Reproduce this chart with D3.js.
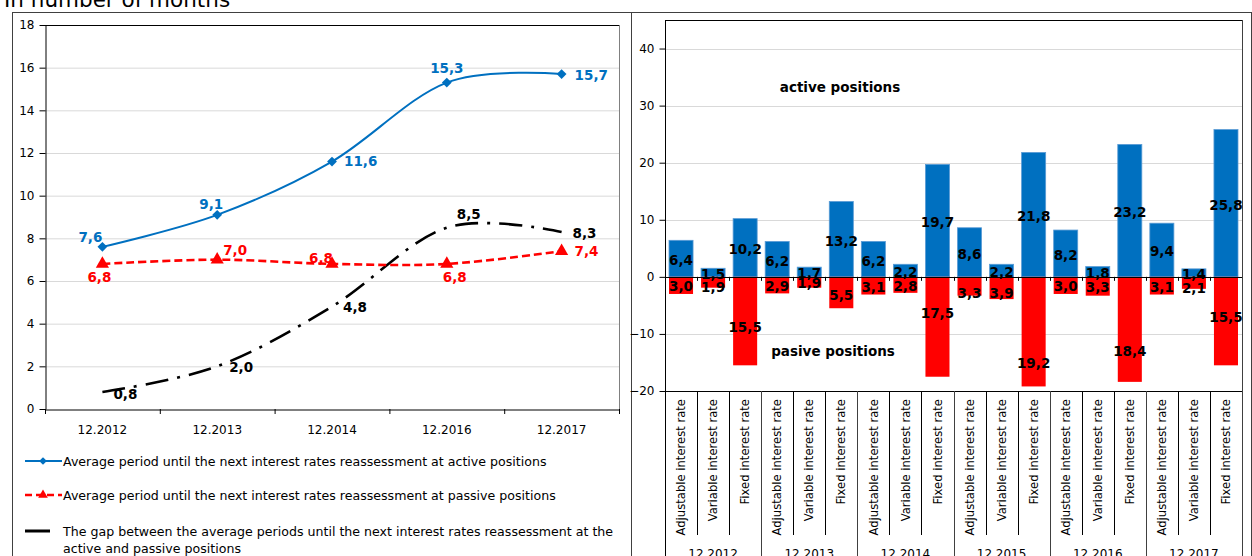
<!DOCTYPE html>
<html><head><meta charset="utf-8">
<script src="https://cdn.jsdelivr.net/npm/d3@7"></script>
<style>
body{margin:0;background:#fff}
svg{display:block}
text{font-family:"DejaVu Sans",sans-serif}
</style>
</head><body>
<svg id="c" width="1252" height="556"></svg>
<script>
// ---------- data ----------
const years = ["12.2012", "12.2013", "12.2014", "12.2016", "12.2017"];
const activeAvg = [7.6, 9.1, 11.6, 15.3, 15.7];
const passiveAvg = [6.8, 7.0, 6.8, 6.8, 7.4];
const gapAvg = [0.8, 2.0, 4.8, 8.5, 8.3];
const leftTicks = [0, 2, 4, 6, 8, 10, 12, 14, 16, 18];
const legendLabels = [
  "Average period until the next interest rates reassessment at active positions",
  "Average period until the next interest rates reassessment at passive positions",
  "The gap between the average periods until the next interest rates reassessment at the",
  "active and passive positions"
];
const titleText = "In number of months";

const barGroups = ["12.2012", "12.2013", "12.2014", "12.2015", "12.2016", "12.2017"];
const rateTypes = ["Adjustable interest rate", "Variable interest rate", "Fixed interest rate"];
const activeBars = [6.4, 1.5, 10.2, 6.2, 1.7, 13.2, 6.2, 2.2, 19.7, 8.6, 2.2, 21.8, 8.2, 1.8, 23.2, 9.4, 1.4, 25.8];
const passiveBars = [3.0, 1.9, 15.5, 2.9, 1.9, 5.5, 3.1, 2.8, 17.5, 3.3, 3.9, 19.2, 3.0, 3.3, 18.4, 3.1, 2.1, 15.5];
const rightTicks = [-20, -10, 0, 10, 20, 30, 40];
const annotActive = "active positions";
const annotPassive = "pasive positions";

// ---------- label placement (style, not data) ----------
const activeLblOff = [[0,-10,"end"],[-6,-11,"middle"],[12,0,"start"],[0,-14,"middle"],[13,1,"start"]];
const passiveLblOff = [[-3,13,"middle"],[6,-10,"start"],[1,-6,"end"],[8,13,"middle"],[13,0,"start"]];
const gapLblOff = [[11,2,"start"],[12,1,"start"],[11,1,"start"],[10,-14,"start"],[11,1,"start"]];
const passiveLblNudge = [0,4,5, 0,0,2, 0,0,-15, 6,4,30, 0,0,21, 0,4,-5];

const BLUE = "#0070C0", RED = "#FF0000";
const fmt = v => d3.format(".1f")(v).replace(".", ",");
const svg = d3.select("#c");

// frame
const frame = svg.append("g").attr("stroke", "#404040").attr("stroke-width", 1).attr("fill", "none");
frame.append("line").attr("x1", 12).attr("x2", 1252).attr("y1", 12.5).attr("y2", 12.5);
[12.5, 631.5, 1251.5].forEach(x => frame.append("line").attr("x1", x).attr("x2", x).attr("y1", 12).attr("y2", 556));

svg.append("text").attr("x", 4).attr("y", 7).attr("font-size", 21.5).attr("fill", "#000").text(titleText);

// ---------- left chart ----------
const L = {x0: 45, x1: 619, y0: 25, y1: 409};
const xL = d3.scaleBand().domain(years).range([L.x0, L.x1]);
const yL = d3.scaleLinear().domain([0, 18]).range([L.y1, L.y0]);
const gl = svg.append("g");

gl.append("g").selectAll("line").data(leftTicks.filter(t => t > 0 && t < 18)).join("line")
  .attr("x1", L.x0).attr("x2", L.x1).attr("y1", d => yL(d) + 0.5).attr("y2", d => yL(d) + 0.5)
  .attr("stroke", "#d9d9d9");
gl.append("line").attr("x1", L.x1 + 0.5).attr("x2", L.x1 + 0.5).attr("y1", L.y0).attr("y2", L.y1).attr("stroke", "#808080");
gl.append("line").attr("x1", L.x0).attr("x2", L.x1).attr("y1", L.y0 + 0.5).attr("y2", L.y0 + 0.5).attr("stroke", "#000");

const yAxL = d3.axisLeft(yL).tickValues(leftTicks).tickSize(6).tickPadding(5).tickSizeOuter(0);
gl.append("g").attr("transform", `translate(${L.x0 + 0.5},0)`).call(yAxL)
  .call(g => g.selectAll("text").attr("font-size", 12).attr("fill", "#000").style("font-family", "DejaVu Sans"))
  .call(g => g.selectAll("line,path").attr("stroke", "#000"));
const xAxL = d3.axisBottom(xL).tickSize(0).tickPadding(16);
gl.append("g").attr("transform", `translate(0,${L.y1 + 0.5})`).call(xAxL)
  .call(g => g.selectAll("text").attr("font-size", 12).attr("fill", "#000").style("font-family", "DejaVu Sans"))
  .call(g => g.select("path").attr("stroke", "#000"));
gl.append("g").selectAll("line").data(d3.range(years.length + 1)).join("line")
  .attr("x1", i => L.x0 + i * xL.step() + 0.5).attr("x2", i => L.x0 + i * xL.step() + 0.5)
  .attr("y1", L.y1).attr("y2", L.y1 + 5).attr("stroke", "#000");

const cx = d => xL(d) + xL.bandwidth() / 2;
const line = d3.line().x((v, i) => cx(years[i])).y(v => yL(v)).curve(d3.curveCardinal.tension(0));

gl.append("path").attr("d", line(gapAvg)).attr("fill", "none").attr("stroke", "#000")
  .attr("stroke-width", 2.6).attr("stroke-dasharray", "23,9,3,9");
gl.append("path").attr("d", line(passiveAvg)).attr("fill", "none").attr("stroke", RED)
  .attr("stroke-width", 2.6).attr("stroke-dasharray", "8,4");
gl.append("path").attr("d", line(activeAvg)).attr("fill", "none").attr("stroke", BLUE).attr("stroke-width", 2);

gl.append("g").selectAll("path").data(activeAvg).join("path")
  .attr("d", d3.symbol().type(d3.symbolSquare).size(48)).attr("fill", BLUE)
  .attr("transform", (v, i) => `translate(${cx(years[i])},${yL(v)}) rotate(45)`);
gl.append("g").selectAll("path").data(passiveAvg).join("path")
  .attr("transform", (v, i) => `translate(${cx(years[i])},${yL(v)})`)
  .attr("d", d3.symbol().type(d3.symbolTriangle).size(75)).attr("fill", RED);

function ptLabels(vals, offs, color) {
  gl.append("g").selectAll("text").data(vals).join("text")
    .attr("x", (v, i) => cx(years[i]) + offs[i][0])
    .attr("y", (v, i) => yL(v) + offs[i][1])
    .attr("dy", "0.36em").attr("text-anchor", (v, i) => offs[i][2])
    .attr("font-size", 13.5).attr("font-weight", "bold").attr("fill", color).text(fmt);
}
ptLabels(activeAvg, activeLblOff, BLUE);
ptLabels(passiveAvg, passiveLblOff, RED);
ptLabels(gapAvg, gapLblOff, "#000");

// legend
const lg = svg.append("g");
const legY = [461, 495, 531, 548];
lg.append("line").attr("x1", 25).attr("x2", 62).attr("y1", legY[0]).attr("y2", legY[0]).attr("stroke", BLUE).attr("stroke-width", 2);
lg.append("path").attr("d", d3.symbol().type(d3.symbolSquare).size(30)).attr("fill", BLUE)
  .attr("transform", `translate(43,${legY[0]}) rotate(45)`);
lg.append("line").attr("x1", 25).attr("x2", 62).attr("y1", legY[1]).attr("y2", legY[1]).attr("stroke", RED)
  .attr("stroke-width", 2.6).attr("stroke-dasharray", "7,4");
lg.append("path").attr("d", d3.symbol().type(d3.symbolTriangle).size(40)).attr("fill", RED)
  .attr("transform", `translate(43,${legY[1]})`);
lg.append("line").attr("x1", 25).attr("x2", 50).attr("y1", legY[2]).attr("y2", legY[2]).attr("stroke", "#000").attr("stroke-width", 3);
lg.selectAll("text").data(legendLabels).join("text")
  .attr("x", 63).attr("y", (d, i) => legY[i]).attr("dy", "0.36em")
  .attr("font-size", 12.6).attr("fill", "#000").text(d => d);

// ---------- right chart ----------
const R = {x0: 665, x1: 1242, y0: 20, y1: 391};
const idx = d3.range(activeBars.length);
const xR = d3.scaleBand().domain(idx).range([R.x0, R.x1]).paddingInner(0.25).paddingOuter(0.125);
const yR = d3.scaleLinear().domain([-20, 45]).range([R.y1, R.y0]);
const step = (R.x1 - R.x0) / idx.length;
const gr = svg.append("g");

gr.append("g").selectAll("line").data(rightTicks.filter(t => t !== 0 && t !== -20)).join("line")
  .attr("x1", R.x0).attr("x2", R.x1).attr("y1", d => Math.round(yR(d)) + 0.5).attr("y2", d => Math.round(yR(d)) + 0.5)
  .attr("stroke", "#d9d9d9");

gr.append("g").selectAll("rect").data(activeBars).join("rect")
  .attr("x", (v, i) => xR(i)).attr("width", xR.bandwidth())
  .attr("y", v => yR(v)).attr("height", v => yR(0) - yR(v))
  .attr("fill", BLUE).attr("stroke", "#5a9bd5").attr("stroke-width", 0.8);
gr.append("g").selectAll("rect").data(passiveBars).join("rect")
  .attr("x", (v, i) => xR(i)).attr("width", xR.bandwidth())
  .attr("y", yR(0)).attr("height", v => yR(-v) - yR(0))
  .attr("fill", RED);

gr.append("line").attr("x1", R.x0).attr("x2", R.x1).attr("y1", R.y0 + 0.5).attr("y2", R.y0 + 0.5).attr("stroke", "#000");
gr.append("line").attr("x1", R.x1 + 0.5).attr("x2", R.x1 + 0.5).attr("y1", R.y0).attr("y2", 556).attr("stroke", "#404040");
gr.append("line").attr("x1", R.x0).attr("x2", R.x1).attr("y1", Math.round(yR(0)) + 0.5).attr("y2", Math.round(yR(0)) + 0.5).attr("stroke", "#000");
gr.append("line").attr("x1", R.x0).attr("x2", R.x1).attr("y1", R.y1 + 0.5).attr("y2", R.y1 + 0.5).attr("stroke", "#000");
gr.append("line").attr("x1", R.x0 + 0.5).attr("x2", R.x0 + 0.5).attr("y1", R.y0).attr("y2", 556).attr("stroke", "#000");

const yAxR = d3.axisLeft(yR).tickValues(rightTicks).tickSize(6).tickPadding(5).tickSizeOuter(0);
gr.append("g").attr("transform", `translate(${R.x0 + 0.5},0)`).call(yAxR)
  .call(g => g.select("path").remove())
  .call(g => g.selectAll("text").attr("font-size", 12).attr("fill", "#000").style("font-family", "DejaVu Sans"))
  .call(g => g.selectAll("line").attr("stroke", "#000"));

const bounds = d3.range(1, idx.length);
gr.append("g").selectAll("line").data(bounds).join("line")
  .attr("x1", k => Math.round(R.x0 + k * step) + 0.5).attr("x2", k => Math.round(R.x0 + k * step) + 0.5)
  .attr("y1", R.y1).attr("y2", k => k % 3 === 0 ? 556 : 535)
  .attr("stroke", k => k % 3 === 0 ? "#404040" : "#000");
gr.append("g").selectAll("line").data(bounds).join("line")
  .attr("x1", k => Math.round(R.x0 + k * step) + 0.5).attr("x2", k => Math.round(R.x0 + k * step) + 0.5)
  .attr("y1", yR(0)).attr("y2", yR(0) + 4).attr("stroke", "#000");

gr.append("g").selectAll("text").data(idx).join("text")
  .attr("transform", i => `translate(${xR(i) + xR.bandwidth() / 2},399) rotate(-90)`)
  .attr("dy", "0.36em").attr("text-anchor", "end").attr("font-size", 11.6).attr("fill", "#000")
  .text(i => rateTypes[i % 3]);
gr.append("g").selectAll("text").data(barGroups).join("text")
  .attr("x", (d, g) => R.x0 + (g * 3 + 1.5) * step).attr("y", 558)
  .attr("text-anchor", "middle").attr("font-size", 12).attr("fill", "#000").text(d => d);

gr.append("g").selectAll("text").data(activeBars).join("text")
  .attr("x", (v, i) => xR(i) + xR.bandwidth() / 2).attr("y", v => (yR(v) + yR(0)) / 2 + 1.5)
  .attr("dy", "0.36em").attr("text-anchor", "middle").attr("font-size", 13.5).attr("font-weight", "bold")
  .attr("fill", "#000").text(fmt);
gr.append("g").selectAll("text").data(passiveBars).join("text")
  .attr("x", (v, i) => xR(i) + xR.bandwidth() / 2).attr("y", (v, i) => (yR(-v) + yR(0)) / 2 + 1 + passiveLblNudge[i])
  .attr("dy", "0.36em").attr("text-anchor", "middle").attr("font-size", 13.5).attr("font-weight", "bold")
  .attr("fill", "#000").text(fmt);

gr.append("text").attr("x", 840).attr("y", 87).attr("dy", "0.36em").attr("text-anchor", "middle")
  .attr("font-size", 13.5).attr("font-weight", "bold").attr("fill", "#000").text(annotActive);
gr.append("text").attr("x", 833).attr("y", 351).attr("dy", "0.36em").attr("text-anchor", "middle")
  .attr("font-size", 13.5).attr("font-weight", "bold").attr("fill", "#000").text(annotPassive);
</script>
</body></html>
